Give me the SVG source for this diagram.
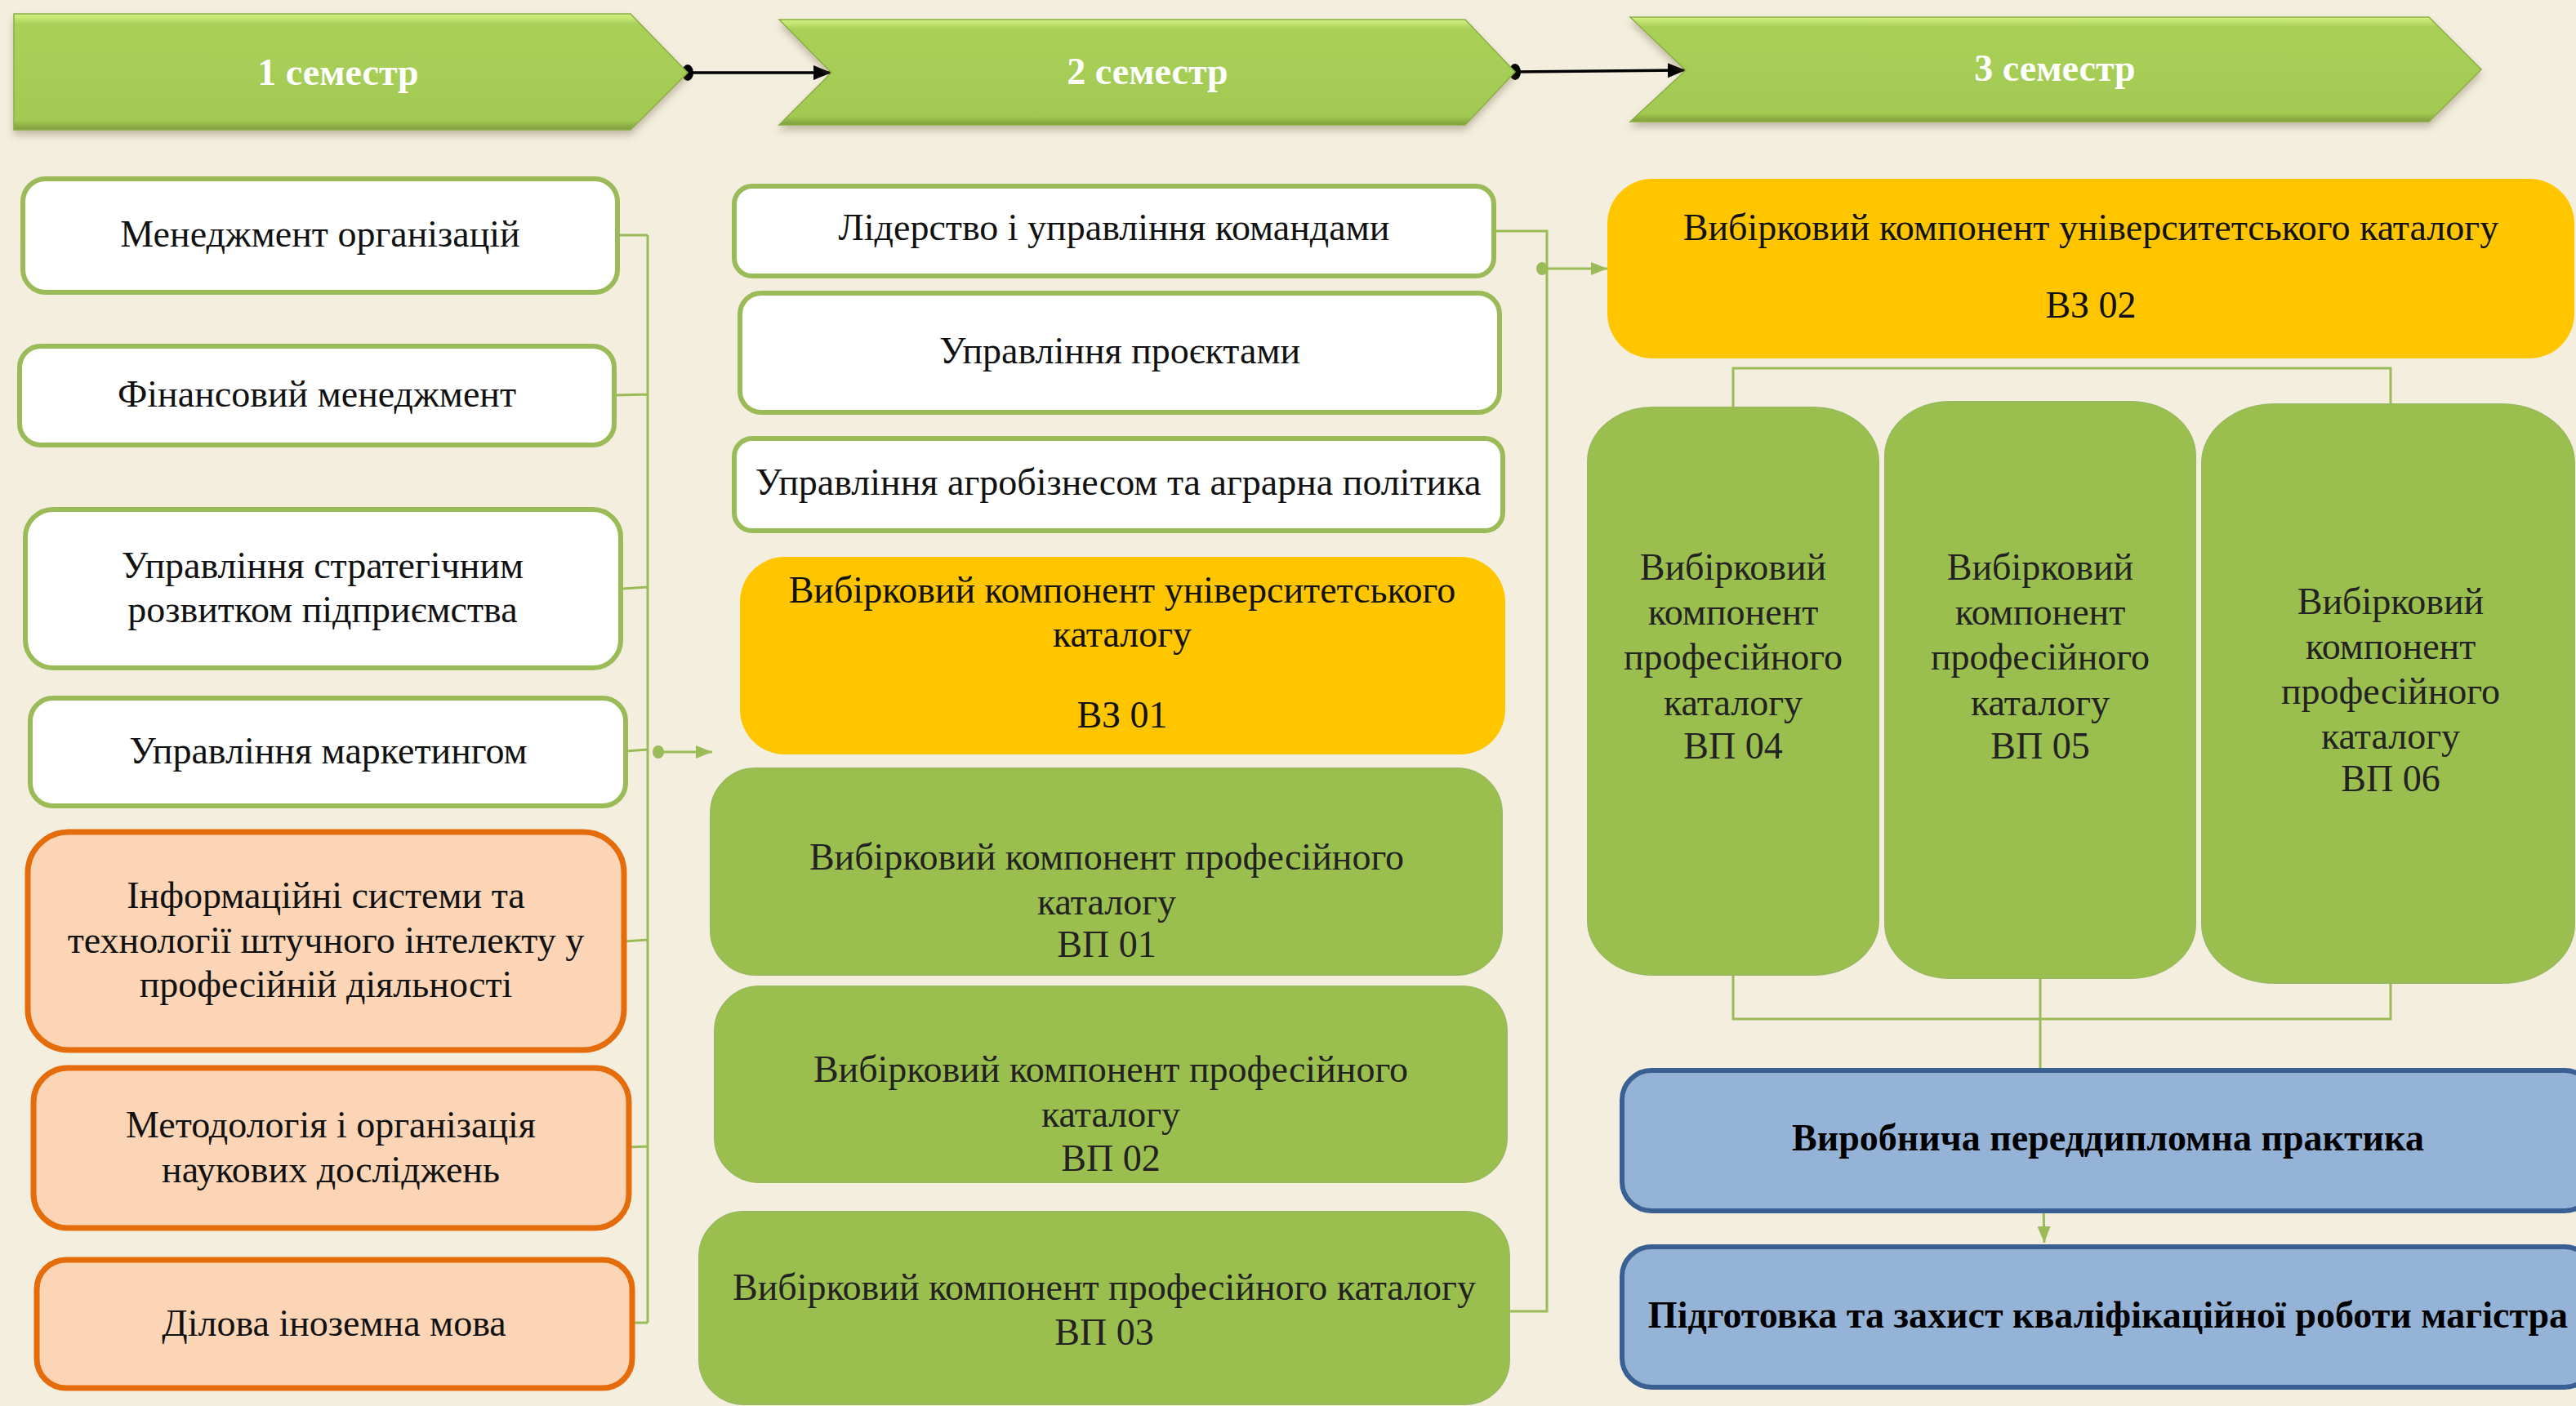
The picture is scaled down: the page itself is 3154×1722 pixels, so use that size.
<svg xmlns="http://www.w3.org/2000/svg" width="3154" height="1722" viewBox="0 0 3154 1722">
<defs>
<style>
.t{font-family:"Liberation Serif","DejaVu Serif",serif;font-size:46px;fill:#111;text-anchor:middle}
.tg{font-family:"Liberation Serif","DejaVu Serif",serif;font-size:46px;fill:#222;text-anchor:middle}
.tb{font-family:"Liberation Serif","DejaVu Serif",serif;font-size:46px;font-weight:bold;fill:#000;text-anchor:middle}
.tc{font-family:"Liberation Serif","DejaVu Serif",serif;font-size:46px;font-weight:bold;fill:#fff;text-anchor:middle}
.wbox{fill:#fff;stroke:#9BBB59;stroke-width:6}
.obox{fill:#FBD5B5;stroke:#E46C0A;stroke-width:7}
.ybox{fill:#FFC600;stroke:none}
.gbox{fill:#9BBF4E;stroke:#98BA5C;stroke-width:2}
.bbox{fill:#95B3D7;stroke:#3A6093;stroke-width:6}
.chev{fill:url(#chevGrad);stroke:#8CAE45;stroke-width:1.5;filter:url(#shadow)}
.gl{fill:none;stroke:#9BBB59;stroke-width:3}
.bl{fill:none;stroke:#000;stroke-width:3.5}
</style>
<linearGradient id="chevGrad" x1="0" y1="0" x2="0" y2="1">
<stop offset="0" stop-color="#D5F283"/>
<stop offset="0.09" stop-color="#A9D158"/>
<stop offset="0.5" stop-color="#A6CD55"/>
<stop offset="0.92" stop-color="#A2C951"/>
<stop offset="1" stop-color="#7E9E3C"/>
</linearGradient>
<filter id="shadow" x="-5%" y="-10%" width="110%" height="130%">
<feDropShadow dx="0" dy="6" stdDeviation="4" flood-color="#6b6040" flood-opacity="0.35"/>
</filter>
<marker id="gArrow" markerUnits="userSpaceOnUse" markerWidth="22" markerHeight="20" refX="20" refY="10" orient="auto">
<path d="M0,2 L20,10 L0,18 Z" fill="#9BBB59"/>
</marker>
<marker id="gDot" markerUnits="userSpaceOnUse" markerWidth="16" markerHeight="20" refX="8" refY="10" orient="auto">
<ellipse cx="8" cy="10" rx="7" ry="8" fill="#9BBB59"/>
</marker>
<marker id="kArrow" markerUnits="userSpaceOnUse" markerWidth="24" markerHeight="22" refX="22" refY="11" orient="auto">
<path d="M0,2 L22,11 L0,20 Z" fill="#000"/>
</marker>
<marker id="kDot" markerUnits="userSpaceOnUse" markerWidth="16" markerHeight="24" refX="8" refY="12" orient="auto">
<ellipse cx="8" cy="12" rx="7" ry="10" fill="#000"/>
</marker>
</defs>
<rect x="0" y="0" width="3154" height="1722" fill="#F3EEDE"/>

<g id="connectors">
<path class="bl" d="M842,89 L1018,89" marker-start="url(#kDot)" marker-end="url(#kArrow)"/>
<path class="bl" d="M1855,88 L2064,86" marker-start="url(#kDot)" marker-end="url(#kArrow)"/>
<path class="gl" d="M756,288 L793,288 M752,484 L793,483 M760,721 L793,719 M766,920 L793,918 M764,1153 L793,1151 M770,1405 L793,1404 M774,1620 L793,1620 M793,288 L793,1620"/>
<path class="gl" d="M806,921 L872,921" marker-start="url(#gDot)" marker-end="url(#gArrow)"/>
<path class="gl" d="M1829,283 L1894,283 L1894,1606 L1848,1606"/>
<path class="gl" d="M1888,329 L1968,329" marker-start="url(#gDot)" marker-end="url(#gArrow)"/>
<path class="gl" d="M2122,499 L2122,451 L2927,451 L2927,495"/>
<path class="gl" d="M2122,1194 L2122,1248 L2927,1248 L2927,1204 M2498,1198 L2498,1312"/>
<path class="gl" d="M2502,1478 L2503,1522" marker-start="url(#gDot)" marker-end="url(#gArrow)"/>
</g>

<g id="sem1">
<polygon class="chev" points="17,17 772,17 842,89 772,159 17,159"/>
<text class="tc" x="414" y="104">1 семестр</text>
</g>
<g id="sem2">
<polygon class="chev" points="954,24 1794,24 1855,88 1794,153 954,153 1018,89"/>
<text class="tc" x="1405" y="103">2 семестр</text>
</g>
<g id="sem3">
<polygon class="chev" points="1996,21 2974,21 3038,85 2974,149 1996,149 2064,86"/>
<text class="tc" x="2516" y="99">3 семестр</text>
</g>

<g id="n-menedzhment">
<rect class="wbox" x="28" y="219" width="728" height="139" rx="28"/>
<text class="t" x="392" y="302">Менеджмент організацій</text>
</g>
<g id="n-finansovyi">
<rect class="wbox" x="24" y="424" width="728" height="121" rx="26"/>
<text class="t" x="388" y="498">Фінансовий менеджмент</text>
</g>
<g id="n-stratehichnyi">
<rect class="wbox" x="31" y="624" width="729" height="194" rx="34"/>
<text class="t" x="395" y="708">Управління стратегічним</text>
<text class="t" x="395" y="762">розвитком підприємства</text>
</g>
<g id="n-marketynh">
<rect class="wbox" x="37" y="855" width="729" height="132" rx="28"/>
<text class="t" x="402" y="935">Управління маркетингом</text>
</g>
<g id="n-info">
<rect class="obox" x="34" y="1019" width="730" height="267" rx="50"/>
<text class="t" x="399" y="1112">Інформаційні системи та</text>
<text class="t" x="399" y="1167">технології штучного інтелекту у</text>
<text class="t" x="399" y="1221">професійній діяльності</text>
</g>
<g id="n-metod">
<rect class="obox" x="41" y="1308" width="729" height="196" rx="42"/>
<text class="t" x="405" y="1393">Методологія і організація</text>
<text class="t" x="405" y="1448">наукових досліджень</text>
</g>
<g id="n-mova">
<rect class="obox" x="45" y="1543" width="729" height="157" rx="36"/>
<text class="t" x="409" y="1636">Ділова іноземна мова</text>
</g>

<g id="n-liderstvo">
<rect class="wbox" x="899" y="228" width="930" height="110" rx="22"/>
<text class="t" x="1364" y="294">Лідерство і управління командами</text>
</g>
<g id="n-proekty">
<rect class="wbox" x="906" y="359" width="930" height="146" rx="26"/>
<text class="t" x="1371" y="445">Управління проєктами</text>
</g>
<g id="n-agro">
<rect class="wbox" x="899" y="537" width="941" height="113" rx="22"/>
<text class="t" x="1369" y="606">Управління агробізнесом та аграрна політика</text>
</g>
<g id="n-vz01">
<rect class="ybox" x="906" y="682" width="937" height="242" rx="55"/>
<text class="t" x="1374" y="738">Вибірковий компонент університетського</text>
<text class="t" x="1374" y="792">каталогу</text>
<text class="t" x="1374" y="891">ВЗ 01</text>
</g>
<g id="n-vp01">
<rect class="gbox" x="870" y="941" width="969" height="253" rx="55"/>
<text class="tg" x="1355" y="1065">Вибірковий компонент професійного</text>
<text class="tg" x="1355" y="1120">каталогу</text>
<text class="tg" x="1355" y="1172">ВП 01</text>
</g>
<g id="n-vp02">
<rect class="gbox" x="875" y="1208" width="970" height="240" rx="55"/>
<text class="tg" x="1360" y="1325">Вибірковий компонент професійного</text>
<text class="tg" x="1360" y="1380">каталогу</text>
<text class="tg" x="1360" y="1434">ВП 02</text>
</g>
<g id="n-vp03">
<rect class="gbox" x="856" y="1484" width="992" height="236" rx="55"/>
<text class="tg" x="1352" y="1592">Вибірковий компонент професійного каталогу</text>
<text class="tg" x="1352" y="1647">ВП 03</text>
</g>

<g id="n-vz02">
<rect class="ybox" x="1968" y="219" width="1184" height="220" rx="55"/>
<text class="t" x="2560" y="294">Вибірковий компонент університетського каталогу</text>
<text class="t" x="2560" y="389">ВЗ 02</text>
</g>
<g id="n-vp04">
<rect class="gbox" x="1944" y="499" width="356" height="695" rx="80" ry="66"/>
<text class="tg" x="2122" y="710">Вибірковий</text>
<text class="tg" x="2122" y="765">компонент</text>
<text class="tg" x="2122" y="820">професійного</text>
<text class="tg" x="2122" y="876">каталогу</text>
<text class="tg" x="2122" y="929">ВП 04</text>
</g>
<g id="n-vp05">
<rect class="gbox" x="2308" y="492" width="380" height="706" rx="80" ry="66"/>
<text class="tg" x="2498" y="710">Вибірковий</text>
<text class="tg" x="2498" y="765">компонент</text>
<text class="tg" x="2498" y="820">професійного</text>
<text class="tg" x="2498" y="876">каталогу</text>
<text class="tg" x="2498" y="929">ВП 05</text>
</g>
<g id="n-vp06">
<rect class="gbox" x="2696" y="495" width="456" height="709" rx="90" ry="72"/>
<text class="tg" x="2927" y="752">Вибірковий</text>
<text class="tg" x="2927" y="807">компонент</text>
<text class="tg" x="2927" y="862">професійного</text>
<text class="tg" x="2927" y="917">каталогу</text>
<text class="tg" x="2927" y="969">ВП 06</text>
</g>
<g id="n-praktyka">
<rect class="bbox" x="1986" y="1311" width="1190" height="172" rx="36"/>
<text class="tb" x="2581" y="1409">Виробнича переддипломна практика</text>
</g>
<g id="n-mahistr">
<rect class="bbox" x="1986" y="1527" width="1190" height="172" rx="36"/>
<text class="tb" x="2581" y="1626">Підготовка та захист кваліфікаційної роботи магістра</text>
</g>
</svg>
